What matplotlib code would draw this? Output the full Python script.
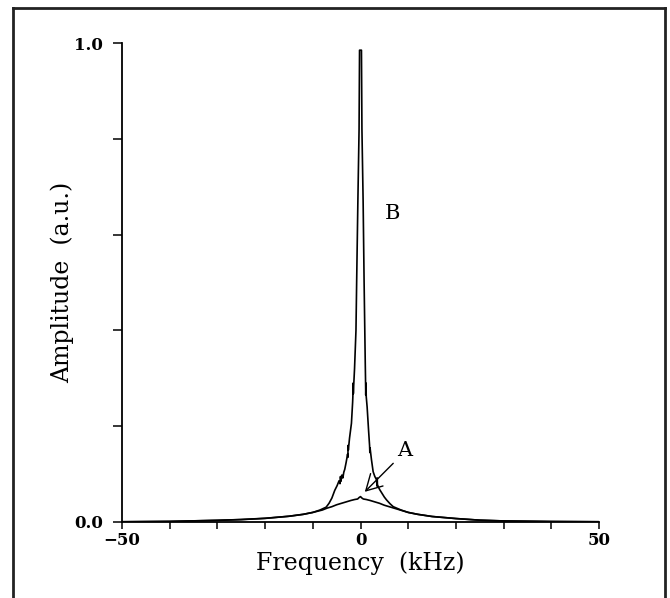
import matplotlib
matplotlib.use("Agg")
import matplotlib.pyplot as plt
from matplotlib.lines import Line2D

# ---- data ----
freq_A = [-50, -40, -30, -25, -20, -15, -12, -10, -8, -7, -6, -5, -4, -3, -2, -1.2,
          -0.6, -0.3, 0, 0.3, 0.6, 1.2, 2, 3, 4, 5, 6, 7, 8, 10, 12, 15, 20, 25, 30, 40, 50]
amp_A = [0.0005, 0.0012, 0.0035, 0.0050, 0.0075, 0.012, 0.016, 0.020, 0.025, 0.029,
         0.032, 0.036, 0.039, 0.042, 0.045, 0.047, 0.048, 0.051, 0.053, 0.050, 0.048,
         0.047, 0.045, 0.042, 0.039, 0.035, 0.032, 0.029, 0.026, 0.020, 0.016, 0.0115,
         0.0072, 0.0038, 0.0022, 0.0010, 0.0005]

freq_B = [-50, -40, -30, -25, -20, -15, -12, -10, -8.5, -7.2, -6.6, -6.0, -5.4, -4.9,
          -4.5, -4.3, -4.2, -4.1, -3.9, -3.7, -3.5, -3.3, -3.0, -2.7, -2.65, -2.6, -2.55,
          -2.3, -1.9, -1.65, -1.6, -1.55, -1.5, -1.45, -1.35, -1.25, -1.1, -0.95, -0.8,
          -0.55, -0.3, -0.2, 0.2, 0.3, 0.55, 0.75, 0.9, 1.0, 1.05, 1.1, 1.15, 1.2,
          1.39, 1.7, 1.9, 1.96, 2.0, 2.3, 2.65, 3.0, 3.37, 3.45, 3.5, 3.55, 3.8, 4.06,
          4.5, 5.0, 5.47, 6.2, 6.86, 8.5, 10, 12, 15, 20, 25, 30, 40, 50]
amp_B = [0.0005, 0.0013, 0.0035, 0.0052, 0.0078, 0.012, 0.016, 0.020, 0.025, 0.031,
         0.039, 0.050, 0.066, 0.076, 0.086, 0.080, 0.095, 0.085, 0.098, 0.092, 0.104,
         0.110, 0.125, 0.142, 0.135, 0.160, 0.150, 0.175, 0.206, 0.250, 0.262, 0.290,
         0.268, 0.280, 0.300, 0.320, 0.360, 0.400, 0.505, 0.670, 0.820, 0.985, 0.985,
         0.820, 0.670, 0.505, 0.400, 0.330, 0.300, 0.265, 0.290, 0.262, 0.240, 0.190,
         0.160, 0.145, 0.155, 0.130, 0.105, 0.095, 0.088, 0.075, 0.092, 0.078, 0.072,
         0.067, 0.060, 0.052, 0.046, 0.038, 0.032, 0.025, 0.020, 0.016, 0.0115, 0.0072,
         0.0038, 0.0022, 0.0010, 0.0005]

xticks_major = [-50, 0, 50]
xtick_labels = ["\u221250", "0", "50"]
xticks_minor = [-40, -30, -20, -10, 10, 20, 30, 40]
yticks_major = [0.0, 1.0]
ytick_labels = ["0.0", "1.0"]
yticks_minor = [0.2, 0.4, 0.6, 0.8]

plt.rcParams['font.family'] = ['DejaVu Serif']

fig = plt.figure(figsize=(6.70, 5.98), dpi=100)
ax = fig.add_axes([122 / 670, 1 - 522 / 598, (599 - 122) / 670, (522 - 43) / 598])

ax.plot(freq_A, amp_A, color='black', lw=1.2)
ax.plot(freq_B, amp_B, color='black', lw=1.2)

ax.set_xlim(-50, 50)
ax.set_ylim(0, 1.0)

for s in ['top', 'right']:
    ax.spines[s].set_visible(False)
for s in ['left', 'bottom']:
    ax.spines[s].set_linewidth(1.3)

ax.set_xticks(xticks_major)
ax.set_xticklabels(xtick_labels)
ax.set_xticks(xticks_minor, minor=True)
ax.set_yticks(yticks_major)
ax.set_yticklabels(ytick_labels)
ax.set_yticks(yticks_minor, minor=True)
ax.tick_params(axis='x', which='both', direction='out', length=5, width=1.1,
               labelsize=12, pad=2)
ax.tick_params(axis='y', which='both', direction='out', length=6.5, width=1.1,
               labelsize=12, pad=7)
for lab in ax.get_xticklabels() + ax.get_yticklabels():
    lab.set_fontweight('bold')

ax.set_xlabel("Frequency  (kHz)", fontsize=17, labelpad=2)
ax.set_ylabel("Amplitude  (a.u.)", fontsize=17, labelpad=0)

ax.text(6.8, 0.645, "B", fontsize=15, ha='center', va='center')
ax.annotate("", xy=(0.9, 0.063), xytext=(6.86, 0.1225),
            arrowprops=dict(arrowstyle="->,head_length=0.8,head_width=0.45",
                            color='black', lw=1.0, shrinkA=0, shrinkB=0,
                            mutation_scale=14))
ax.text(9.3, 0.150, "A", fontsize=15, ha='center', va='center')

# outer frame (open at bottom, as in the reference)
lw_frame = 2.0
fig.add_artist(Line2D([13 / 670, 13 / 670], [0, 1 - 8 / 598], color='#222222', lw=lw_frame))
fig.add_artist(Line2D([13 / 670, 665 / 670], [1 - 8 / 598, 1 - 8 / 598], color='#222222', lw=lw_frame))
fig.add_artist(Line2D([665 / 670, 665 / 670], [0, 1 - 8 / 598], color='#222222', lw=lw_frame))

fig.savefig("out.png", dpi=100)
